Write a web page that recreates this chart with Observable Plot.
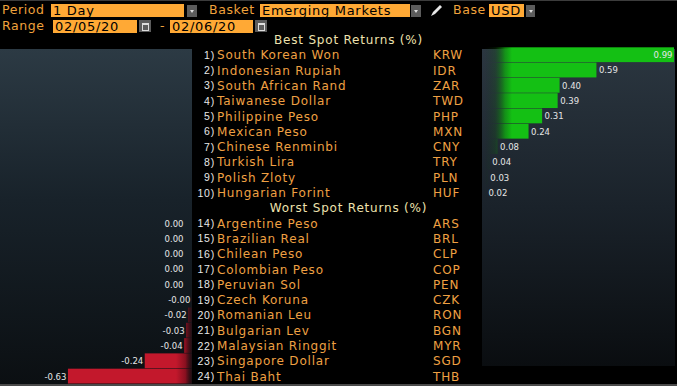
<!DOCTYPE html>
<html><head><meta charset="utf-8">
<script src="https://cdn.jsdelivr.net/npm/d3@7"></script>
<script src="https://cdn.jsdelivr.net/npm/@observablehq/plot@0.6"></script>
<style>
html,body{margin:0;padding:0;background:#000;width:677px;height:386px;overflow:hidden;font-family:"DejaVu Sans",sans-serif;}
#wrap{position:relative;width:677px;height:386px;background:#000;border-top:1px solid #3c3c3c;box-sizing:border-box;}
.lbl{position:absolute;color:#f0a23c;font-size:12.5px;letter-spacing:0.6px;line-height:14px;white-space:nowrap;}
.box{position:absolute;background:#ffa935;color:#000;font-size:13px;line-height:13px;letter-spacing:0.7px;white-space:nowrap;padding-left:2px;box-sizing:border-box;}
.arr{position:absolute;background:#5c5c5c;}
.arr:after{content:"";position:absolute;left:50%;top:50%;margin-left:-2px;margin-top:-1px;border-left:2px solid transparent;border-right:2px solid transparent;border-top:3px solid #ddd;}
.cal{position:absolute;background:#5c5c5c;}
.cal:after{content:"";position:absolute;left:3px;top:3px;width:5px;height:5px;border:1px solid #ddd;border-top-width:2px;}
.panel{position:absolute;}
.plot{position:absolute;top:31px;}
#bottomline{position:absolute;left:0;top:383px;width:677px;height:2px;background:#4a4a4a;}
</style></head>
<body>
<div id="wrap">
  <div class="lbl" style="left:2px;top:2px">Period</div>
  <div class="box" style="left:51px;top:3px;width:133px;height:13px">1 Day</div>
  <div class="arr" style="left:187px;top:4px;width:10px;height:12px"></div>
  <div class="lbl" style="left:209px;top:2px">Basket</div>
  <div class="box" style="left:260px;top:3px;width:150px;height:13px">Emerging Markets</div>
  <div class="arr" style="left:411px;top:4px;width:10px;height:12px"></div>
  <svg style="position:absolute;left:429px;top:3px" width="14" height="13"><path d="M2,12 L4,8 L11,1 L13,3 L6,10 Z" fill="#e8e8e8"/></svg>
  <div class="lbl" style="left:453px;top:2px">Base</div>
  <div class="box" style="left:489px;top:3px;width:35px;height:13px">USD</div>
  <div class="arr" style="left:526px;top:4px;width:9px;height:12px"></div>
  <div class="lbl" style="left:2px;top:18px">Range</div>
  <div class="box" style="left:53px;top:19px;width:84px;height:13px">02/05/20</div>
  <div class="cal" style="left:139px;top:19px;width:12px;height:12px"></div>
  <div class="lbl" style="left:160px;top:18px">-</div>
  <div class="box" style="left:170px;top:19px;width:83px;height:13px">02/06/20</div>
  <div class="cal" style="left:255px;top:19px;width:12px;height:12px"></div>

  <div class="panel" style="left:0;top:48px;width:192px;height:336px;background:linear-gradient(#2c3a44,#18222a 45%,#0b0f12)"></div>
  <div class="panel" style="left:482px;top:48px;width:193px;height:317px;background:linear-gradient(#2b3640,#1a222a 50%,#0a0d10)"></div>
  <div class="plot" id="left" style="left:0"></div>
  <div class="plot" id="center" style="left:193px"></div>
  <div class="plot" id="right" style="left:482px"></div>
  <div id="bottomline"></div>
</div>
<script>
// ---- data ----
const titles = ["Best Spot Returns (%)", "Worst Spot Returns (%)"];
const bestRanks = [1, 2, 3, 4, 5, 6, 7, 8, 9, 10];
const bestNames = ["South Korean Won", "Indonesian Rupiah", "South African Rand", "Taiwanese Dollar", "Philippine Peso", "Mexican Peso", "Chinese Renminbi", "Turkish Lira", "Polish Zloty", "Hungarian Forint"];
const bestCodes = ["KRW", "IDR", "ZAR", "TWD", "PHP", "MXN", "CNY", "TRY", "PLN", "HUF"];
const bestValues = [0.99, 0.59, 0.40, 0.39, 0.31, 0.24, 0.08, 0.04, 0.03, 0.02];
const worstRanks = [14, 15, 16, 17, 18, 19, 20, 21, 22, 23, 24];
const worstNames = ["Argentine Peso", "Brazilian Real", "Chilean Peso", "Colombian Peso", "Peruvian Sol", "Czech Koruna", "Romanian Leu", "Bulgarian Lev", "Malaysian Ringgit", "Singapore Dollar", "Thai Baht"];
const worstCodes = ["ARS", "BRL", "CLP", "COP", "PEN", "CZK", "RON", "BGN", "MYR", "SGD", "THB"];
const worstValues = [0.00, 0.00, 0.00, 0.00, 0.00, -0.001, -0.02, -0.03, -0.04, -0.24, -0.63];

// ---- table ----
const best = bestNames.map((n, i) => ({key: "r" + bestRanks[i], rank: bestRanks[i], name: n, code: bestCodes[i], value: bestValues[i]}));
const worst = worstNames.map((n, i) => ({key: "r" + worstRanks[i], rank: worstRanks[i], name: n, code: worstCodes[i], value: worstValues[i]}));
const titleRows = [{key: "tBest", title: titles[0]}, {key: "tWorst", title: titles[1]}];
const rows = [titleRows[0], ...best, titleRows[1], ...worst];
const yDomain = rows.map(d => d.key);
const fmt = v => v.toFixed(2);

const H = 354;
const yScale = {axis: null, type: "band", domain: yDomain, range: [0, 352], padding: 0, round: false};
const labelStyle = {fontFamily: "DejaVu Sans", fontSize: 8.5, fill: "#e6e6e6"};

function addDefs(svg, html) {
  d3.select(svg).insert("defs", ":first-child").html(html);
}

// left (negative) panel
const left = Plot.plot({
  width: 193, height: H, margin: 0,
  style: {background: "transparent", overflow: "visible"},
  x: {axis: null, domain: [-0.975, 0], range: [0, 192]},
  y: yScale,
  marks: [
    Plot.barX(worst, {x: "value", y: "key", fill: "url(#redGrad)", insetBottom: 0.5}),
    Plot.text(worst.filter(d => d.value < 0), {x: "value", y: "key", text: d => fmt(d.value), textAnchor: "end", dx: -2, ...labelStyle}),
    Plot.text(worst.filter(d => d.value >= 0), {x: "value", y: "key", text: d => fmt(d.value), textAnchor: "end", dx: -9, ...labelStyle})
  ]
});
addDefs(left, `<linearGradient id="redGrad" gradientUnits="userSpaceOnUse" x1="176" y1="0" x2="193" y2="0">
  <stop offset="0" stop-color="#c3182c"/><stop offset="0.55" stop-color="#8a1020"/><stop offset="1" stop-color="#3a0a10" stop-opacity="0.2"/></linearGradient>`);
document.getElementById("left").appendChild(left);

// center text panel
const nameColor = "#efa043";
const center = Plot.plot({
  width: 289, height: H, margin: 0,
  style: {background: "transparent", overflow: "visible", letterSpacing: "0.8px"},
  x: {axis: null},
  y: yScale,
  marks: [
    Plot.text(titleRows, {y: "key", text: "title", frameAnchor: "left", dx: 155, textAnchor: "middle", fill: "#eee2ae", fontSize: 12, fontFamily: "DejaVu Sans"}),
    Plot.text([...best, ...worst], {y: "key", text: d => d.rank + ")", frameAnchor: "left", dx: 21.5, textAnchor: "end", fill: "#e8e8e8", fontSize: 10.5, fontFamily: "Liberation Sans Narrow, Liberation Sans, sans-serif"}),
    Plot.text([...best, ...worst], {y: "key", text: "name", frameAnchor: "left", dx: 23.5, textAnchor: "start", fill: nameColor, fontSize: 12, fontFamily: "DejaVu Sans"}),
    Plot.text([...best, ...worst], {y: "key", text: "code", frameAnchor: "left", dx: 239.5, textAnchor: "start", fill: nameColor, fontSize: 12, fontFamily: "DejaVu Sans"})
  ]
});
document.getElementById("center").appendChild(center);

// right (positive) panel
const right = Plot.plot({
  width: 195, height: H, margin: 0,
  style: {background: "transparent", overflow: "visible"},
  x: {axis: null, domain: [0, 0.99], range: [0, 192]},
  y: yScale,
  marks: [
    Plot.barX(best, {x: "value", y: "key", fill: "url(#greenGrad)", insetBottom: 0.5}),
    Plot.text(best.filter(d => d.value < 0.9), {x: "value", y: "key", text: d => fmt(d.value), textAnchor: "start", dx: 2, ...labelStyle}),
    Plot.text(best.filter(d => d.value >= 0.9), {x: "value", y: "key", text: d => fmt(d.value), textAnchor: "end", dx: -2, ...labelStyle})
  ]
});
addDefs(right, `<linearGradient id="greenGrad" gradientUnits="userSpaceOnUse" x1="2" y1="0" x2="30" y2="0">
  <stop offset="0" stop-color="#0a3a0a" stop-opacity="0"/><stop offset="0.4" stop-color="#0c6a0c" stop-opacity="0.2"/><stop offset="0.75" stop-color="#10a810" stop-opacity="0.8"/><stop offset="1" stop-color="#14c014"/></linearGradient>`);
document.getElementById("right").appendChild(right);
</script>
</body></html>
